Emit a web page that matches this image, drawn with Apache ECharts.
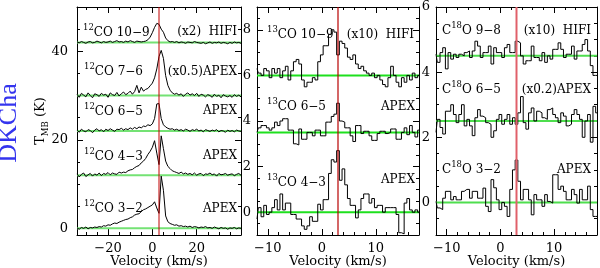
<!DOCTYPE html>
<html><head><meta charset="utf-8">
<script src="https://cdn.jsdelivr.net/npm/echarts@6/dist/echarts.min.js"></script>
<style>html,body{margin:0;padding:0;background:#fff}#c{width:600px;height:268px}</style>
</head><body><div id="c"></div>
<script>
// ---------------- DATA ----------------
// Panel 1: 12CO velocity channels (km/s)
const vel12 = [-34,-33,-32,-31,-30,-29,-28,-27,-26,-25,
  -24,-23,-22,-21,-20,-19,-18,-17,-16,-15,
  -14,-13,-12,-11,-10,-9,-8,-7,-6,-5,
  -4,-3,-2,-1,0,1,2,3,4,5,
  6,7,8,9,10,11,12,13,14,15,
  16,17,18,19,20,21,22,23,24,25,
  26,27,28,29,30,31,32,33,34,35,
  36,37,38,39,40];
// spectra relative to their own baseline (K, already scaled)
const co12_109 = [0.1,-0.1,0.2,0.0,-0.2,0.1,0.2,-0.1,0.0,0.3,
  0.1,-0.1,0.2,0.0,0.1,0.3,0.0,0.2,0.4,0.1,
  0.2,0.0,0.3,0.1,0.4,0.2,0.0,0.3,0.2,0.1,
  0.2,0.3,0.6,1.2,2.2,3.4,4.3,4.1,3.0,2.3,
  1.0,0.4,0.1,0.2,0.0,0.2,-0.1,0.1,0.0,-0.2,
  0.1,0.0,-0.1,0.2,0.0,-0.1,-0.2,0.0,-0.3,-0.1,
  0.1,-0.2,0.0,-0.1,0.1,-0.2,0.0,-0.1,-0.3,0.0,
  -0.2,0.1,-0.1,0.0,-0.2];
const co12_76 = [0.3,-0.4,0.5,0.1,-0.3,0.6,0.0,-0.5,0.4,0.2,
  -0.2,0.5,0.1,0.3,-0.4,0.6,0.2,0.0,0.7,-0.1,
  0.4,0.8,0.2,0.5,1.0,0.3,0.9,2.3,0.6,1.9,
  1.0,1.4,1.6,2.2,2.8,4.0,6.0,8.8,10.2,8.4,
  4.5,2.3,1.2,0.6,0.3,0.5,0.1,0.4,-0.2,0.3,
  0.6,0.1,0.4,0.0,0.5,-0.2,0.3,0.1,-0.3,0.2,
  0.0,-0.4,0.3,-0.2,0.1,-0.5,0.2,-0.1,-0.3,0.0,
  -0.4,0.2,-0.2,0.1,-0.3];
const co12_65 = [0.2,-0.3,0.4,0.0,-0.2,0.3,0.1,-0.4,0.2,0.5,
  0.0,0.3,-0.2,0.4,0.1,0.5,0.2,-0.1,0.4,0.3,
  0.6,0.2,0.5,0.3,0.7,0.4,0.8,0.5,0.9,0.7,
  1.1,1.0,1.4,1.2,1.6,2.8,6.1,6.2,2.8,1.4,
  0.9,0.6,0.4,0.5,0.2,0.4,0.1,0.3,0.0,0.4,
  0.2,-0.1,0.3,0.1,0.4,0.0,0.2,-0.2,0.3,0.1,
  -0.1,0.2,0.0,0.3,-0.2,0.1,0.0,-0.3,0.2,-0.1,
  0.1,-0.2,0.2,0.0,-0.1];
const co12_43 = [0.3,-0.4,0.2,0.5,-0.3,0.1,0.4,-0.2,0.3,0.0,
  0.5,-0.1,0.4,0.2,0.6,0.1,0.5,0.3,0.2,0.7,
  0.5,0.7,0.6,1.0,1.2,1.3,1.7,2.0,2.2,2.8,
  3.2,3.8,4.7,5.4,6.3,7.8,5.0,2.4,8.9,6.0,
  3.2,2.0,1.5,1.0,0.8,0.6,0.4,0.7,0.3,0.5,
  0.2,0.4,0.1,0.5,0.0,0.3,0.4,-0.1,0.3,0.2,
  0.5,0.1,0.3,-0.2,0.4,0.1,0.2,0.4,0.0,0.2,
  0.3,-0.1,0.2,0.4,0.0];
const co12_32 = [0.1,-0.2,0.2,0.0,0.3,-0.1,0.2,0.1,0.3,0.2,
  0.4,0.3,0.6,0.5,0.8,0.7,1.0,1.2,1.1,1.4,
  1.6,1.8,2.0,2.1,2.4,2.6,3.0,3.2,3.3,3.8,
  4.2,4.4,4.7,5.0,5.3,6.0,4.6,3.4,11.8,8.6,
  2.8,1.5,1.1,0.9,0.7,0.8,0.5,0.6,0.4,0.5,
  0.3,0.5,0.2,0.4,0.3,0.1,0.3,0.2,0.4,0.1,
  0.2,0.0,0.3,0.1,-0.1,0.2,0.0,0.1,-0.2,0.1,
  0.0,0.2,-0.1,0.1,0.0];
const base12 = [42, 30, 22, 12, 0];

// Panels 2 and 3: 0.5 km/s channels
const vel13 = [-12,-11.5,-11,-10.5,-10,-9.5,-9,-8.5,-8,-7.5,
  -7,-6.5,-6,-5.5,-5,-4.5,-4,-3.5,-3,-2.5,
  -2,-1.5,-1,-0.5,0,0.5,1,1.5,2,2.5,
  3,3.5,4,4.5,5,5.5,6,6.5,7,7.5,
  8,8.5,9,9.5,10,10.5,11,11.5,12,12.5,
  13,13.5,14,14.5,15,15.5,16,16.5,17,17.5,
  18];
const co13_109 = [0.3,0.1,0.0,0.3,0.2,-0.1,0.3,0.1,0.3,-0.1,
  0.2,0.4,-0.2,0.2,0.6,0.7,0.5,-0.2,-0.5,-0.3,
  -0.3,-0.1,-0.2,0.6,0.9,1.3,1.3,1.8,2.0,1.9,
  0.9,1.5,1.4,1.2,0.8,0.7,0.9,0.5,0.3,0.4,
  0.2,0.1,0.0,0.1,-0.1,0.0,-0.2,-0.4,-0.5,-0.1,
  0.4,0.0,-0.3,-0.5,-0.1,-0.3,0.0,-0.2,0.1,-0.1,
  0.0];
const co13_65 = [0.0,0.2,0.3,0.3,0.2,0.1,0.2,0.45,0.3,0.5,
  0.6,0.6,0.1,0.1,-0.5,-0.55,0.15,-0.3,-0.3,0.0,
  0.0,-0.15,0.1,0.1,-0.15,-0.15,0.45,0.45,0.7,0.8,
  1.28,0.5,0.45,0.2,0.2,-0.15,-0.4,0.3,0.3,-0.05,
  0.05,0.05,-0.15,-0.35,-0.35,-0.05,0.05,0.05,-0.05,0.0,
  0.15,0.15,-0.3,-0.3,0.0,0.2,-0.1,0.3,0.0,-0.2,
  0.1];
const co13_43 = [-0.3,0.2,-0.2,0.3,-0.1,0.0,0.2,0.55,0.1,0.8,
  0.1,0.4,0.4,-0.1,-0.1,-0.3,-0.3,-0.6,-0.75,-0.6,
  -0.2,-0.4,-0.4,0.35,0.1,0.55,0.55,1.7,2.3,2.2,
  2.7,1.4,1.9,1.2,0.6,0.3,0.3,-0.25,0.1,0.6,
  0.8,0.8,0.4,0.6,0.2,0.3,0.3,0.0,0.2,0.2,
  0.2,0.2,-0.1,-0.9,-0.95,0.4,0.6,0.1,0.0,0.1,
  0.0];
const base13 = [6, 3.5, 0];

const c18_98 = [0.05,-0.2,0.1,0.25,-0.4,0.1,-0.1,0.05,-0.05,0.05,
  0.0,0.1,0.15,-0.05,0.15,0.45,0.3,-0.05,0.1,0.1,
  0.3,-0.25,0.25,0.1,0.1,-0.05,0.25,0.35,0.1,0.1,
  0.45,0.4,0.0,-0.25,-0.15,-0.15,0.3,-0.05,-0.05,-0.15,
  0.1,-0.2,0.0,-0.1,0.2,0.2,0.4,0.2,-0.05,0.05,
  0.05,0.3,-0.1,0.15,0.15,0.35,0.5,0.15,-0.3,-0.6,
  -0.6];
const c18_65 = [-0.35,0.05,-0.2,-0.4,0.3,0.3,0.5,0.2,-0.05,0.2,
  0.5,-0.15,0.05,-0.15,-0.45,0.1,0.35,0.15,0.1,-0.05,
  -0.1,-0.5,-0.3,0.05,0.2,-0.1,0.05,0.2,-0.1,0.1,
  -0.1,0.25,0.75,-0.05,-0.25,0.25,0.4,0.0,0.3,0.25,
  0.1,0.05,0.35,0.4,0.2,0.1,-0.05,0.25,0.15,-0.15,
  -0.1,0.2,0.35,0.2,0.05,-0.5,0.0,0.2,-0.65,0.45,
  0.25];
const c18_32 = [0.03,-0.17,-0.22,0.13,0.34,0.34,0.08,0.18,0.08,0.08,
  0.34,0.4,0.4,0.13,0.34,0.34,0.13,0.13,0.44,-0.12,
  -0.28,0.7,0.45,0.08,-0.22,0.0,-0.12,-0.43,0.4,1.0,
  1.3,0.65,0.08,0.4,0.4,0.08,-0.38,0.24,0.08,0.08,
  -0.12,0.24,0.03,-0.02,0.85,0.85,0.4,0.5,0.34,0.08,
  0.08,0.4,0.24,-0.02,0.4,0.08,0.08,0.5,-0.22,-0.43,
  -0.43];
const base18 = [4.5, 2.5, 0];

const systemicVel = [3, 3, 3];          // red vertical line per panel
const xRange = [[-34, 40], [-12, 18], [-12, 18]];
const yRange = [[-1.5, 50], [-1, 9], [-1, 6]];
const xLabels = [[-20, 0, 20], [-10, 0, 10], [-10, 0, 10]];
const yLabels = [[0, 20, 40], [0, 2, 4, 6, 8], [0, 2, 4, 6]];
const xMinorStep = [5, 2, 2];
const yMinorStep = [5, 0.5, 0.5];

// ---------------- CHART ----------------
const F = "'DejaVu Serif', serif";
const grids = [
  {left: 77, top: 7, width: 164, height: 228, outerBoundsMode: 'none', containLabel: false},
  {left: 257, top: 7, width: 162, height: 228, outerBoundsMode: 'none', containLabel: false},
  {left: 436, top: 7, width: 161, height: 228, outerBoundsMode: 'none', containLabel: false}
];
const yLabelMargin = [9, 6, 6];
const fmt = v => (v < 0 ? '\u2212' : '') + Math.abs(v);

function minorTicks(r, step, major) {
  const out = [];
  const start = Math.ceil(r[0] / step) * step;
  for (let k = 0; start + k * step <= r[1] + 1e-9; k++) {
    const v = +(start + k * step).toFixed(4);
    if (v > r[0] + 1e-9 && v < r[1] - 1e-9 && major.indexOf(v) < 0) out.push(v);
  }
  return out;
}

function makeAxes(dim, g) {
  const r = dim === 'x' ? xRange[g] : yRange[g];
  const maj = (dim === 'x' ? xLabels[g] : yLabels[g]);
  const majT = maj.filter(v => v > r[0] && v < r[1]);
  const mnr = minorTicks(r, dim === 'x' ? xMinorStep[g] : yMinorStep[g], maj);
  const p0 = dim === 'x' ? 'bottom' : 'left';
  const p1 = dim === 'x' ? 'top' : 'right';
  const base = {type: 'value', gridIndex: g, min: r[0], max: r[1], splitLine: {show: false},
    axisPointer: {show: false}, silent: true};
  const line = {show: true, onZero: false, lineStyle: {color: '#000', width: 1}};
  const noLine = {show: false, onZero: false};
  const a0 = Object.assign({}, base, {position: p0, axisLine: line,
    axisTick: {show: true, inside: true, length: 6, customValues: majT, lineStyle: {color: '#000', width: 1}},
    axisLabel: {show: true, customValues: maj, formatter: fmt, fontFamily: F, fontSize: 13, color: '#000',
      margin: dim === 'x' ? 7 : yLabelMargin[g]}});
  if (dim === 'x') {
    a0.name = 'Velocity (km/s)';
    a0.nameLocation = 'middle';
    a0.nameGap = 20;
    a0.nameMoveOverlap = false;
    a0.nameTextStyle = {fontFamily: F, fontSize: 13, color: '#000'};
  }
  const a1 = Object.assign({}, base, {position: p1, axisLine: line,
    axisTick: {show: true, inside: true, length: 6, customValues: majT, lineStyle: {color: '#000', width: 1}},
    axisLabel: {show: false}});
  const a2 = Object.assign({}, base, {position: p0, axisLine: noLine,
    axisTick: {show: true, inside: true, length: 3, customValues: mnr, lineStyle: {color: '#000', width: 1}},
    axisLabel: {show: false}});
  const a3 = Object.assign({}, base, {position: p1, axisLine: noLine,
    axisTick: {show: true, inside: true, length: 3, customValues: mnr, lineStyle: {color: '#000', width: 1}},
    axisLabel: {show: false}});
  return [a0, a1, a2, a3];
}

const xAxes = [], yAxes = [];
for (let g = 0; g < 3; g++) { xAxes.push(...makeAxes('x', g)); yAxes.push(...makeAxes('y', g)); }

const series = [];
const greenCol = ['#74e274', '#1ee01e', '#4ede4e'];
const redCol = ['#c00000', '#b80000', '#e0606a'];
const redW = [1, 1.2, 2];
const panels = [
  {vel: vel12, specs: [co12_109, co12_76, co12_65, co12_43, co12_32], base: base12, step: false},
  {vel: vel13, specs: [co13_109, co13_65, co13_43], base: base13, step: 'middle'},
  {vel: vel13, specs: [c18_98, c18_65, c18_32], base: base18, step: 'middle'}
];
panels.forEach((p, g) => {
  const ax = {xAxisIndex: 4 * g, yAxisIndex: 4 * g};
  p.base.forEach(b => series.push(Object.assign({type: 'line', silent: true, showSymbol: false, z: 1,
    data: [[xRange[g][0], b], [xRange[g][1], b]],
    lineStyle: {color: greenCol[g], width: 2}}, ax)));
  p.specs.forEach((s, k) => series.push(Object.assign({type: 'line', silent: true, showSymbol: false, z: 2,
    step: p.step, data: p.vel.map((v, i) => [v, s[i] + p.base[k]]),
    lineStyle: {color: '#000', width: 1}}, ax)));
  series.push(Object.assign({type: 'line', silent: true, showSymbol: false, z: 3,
    data: [[systemicVel[g], yRange[g][0]], [systemicVel[g], yRange[g][1]]],
    lineStyle: {color: redCol[g], width: redW[g]}}, ax));
});

// text annotations
const rich = {
  s: {fontFamily: F, fontSize: 8.5, verticalAlign: 'top', lineHeight: 8, fill: '#000'},
  n: {fontFamily: F, fontSize: 12, lineHeight: 20, fill: '#000'}
};
function lab(x, y, text, align) {
  return {type: 'text', x: x, y: y, silent: true,
    style: {text: text, rich: rich, align: align || 'left', verticalAlign: 'middle', fill: '#000'}};
}
const graphics = [
  {type: 'text', x: 9, y: 123, rotation: Math.PI / 2, silent: true,
    style: {text: 'DKCha', fontFamily: "'Liberation Serif', serif", fontSize: 26, fill: '#3434ee',
      align: 'center', verticalAlign: 'middle'}},
  {type: 'text', x: 41, y: 121, rotation: Math.PI / 2, silent: true,
    style: {text: '{t|T}{b|MB}{t| (K)}', align: 'center', verticalAlign: 'middle',
      rich: {t: {fontFamily: F, fontSize: 13, lineHeight: 18, fill: '#000'},
             b: {fontFamily: F, fontSize: 8.5, lineHeight: 8, verticalAlign: 'bottom', fill: '#000'}}}},
  lab(83, 33, '{s|12}{n|CO 10\u22129}'),
  lab(84, 72, '{s|12}{n|CO 7\u22126}'),
  lab(84, 112, '{s|12}{n|CO 6\u22125}'),
  lab(84, 157, '{s|12}{n|CO 4\u22123}'),
  lab(84, 209, '{s|12}{n|CO 3\u22122}'),
  lab(237, 32, '{n|(x2)  HIFI}', 'right'),
  lab(237, 72, '{n|(x0.5)APEX}', 'right'),
  lab(237, 111, '{n|APEX}', 'right'),
  lab(237, 156, '{n|APEX}', 'right'),
  lab(237, 209, '{n|APEX}', 'right'),
  lab(267, 35, '{s|13}{n|CO 10\u22129}'),
  lab(267, 107, '{s|13}{n|CO 6\u22125}'),
  lab(267, 183, '{s|13}{n|CO 4\u22123}'),
  lab(414, 35, '{n|(x10)  HIFI}', 'right'),
  lab(415, 107, '{n|APEX}', 'right'),
  lab(415, 180, '{n|APEX}', 'right'),
  lab(442, 31, '{n|C}{s|18}{n|O 9\u22128}'),
  lab(442, 90, '{n|C}{s|18}{n|O 6\u22125}'),
  lab(442, 170, '{n|C}{s|18}{n|O 3\u22122}'),
  lab(591, 31, '{n|(x10)  HIFI}', 'right'),
  lab(591, 90, '{n|(x0.2)APEX}', 'right'),
  lab(591, 170, '{n|APEX}', 'right')
];

const chart = echarts.init(document.getElementById('c'), null, {renderer: 'canvas'});
chart.setOption({
  animation: false,
  backgroundColor: '#fff',
  grid: grids,
  xAxis: xAxes,
  yAxis: yAxes,
  series: series,
  graphic: graphics
});
</script></body></html>
